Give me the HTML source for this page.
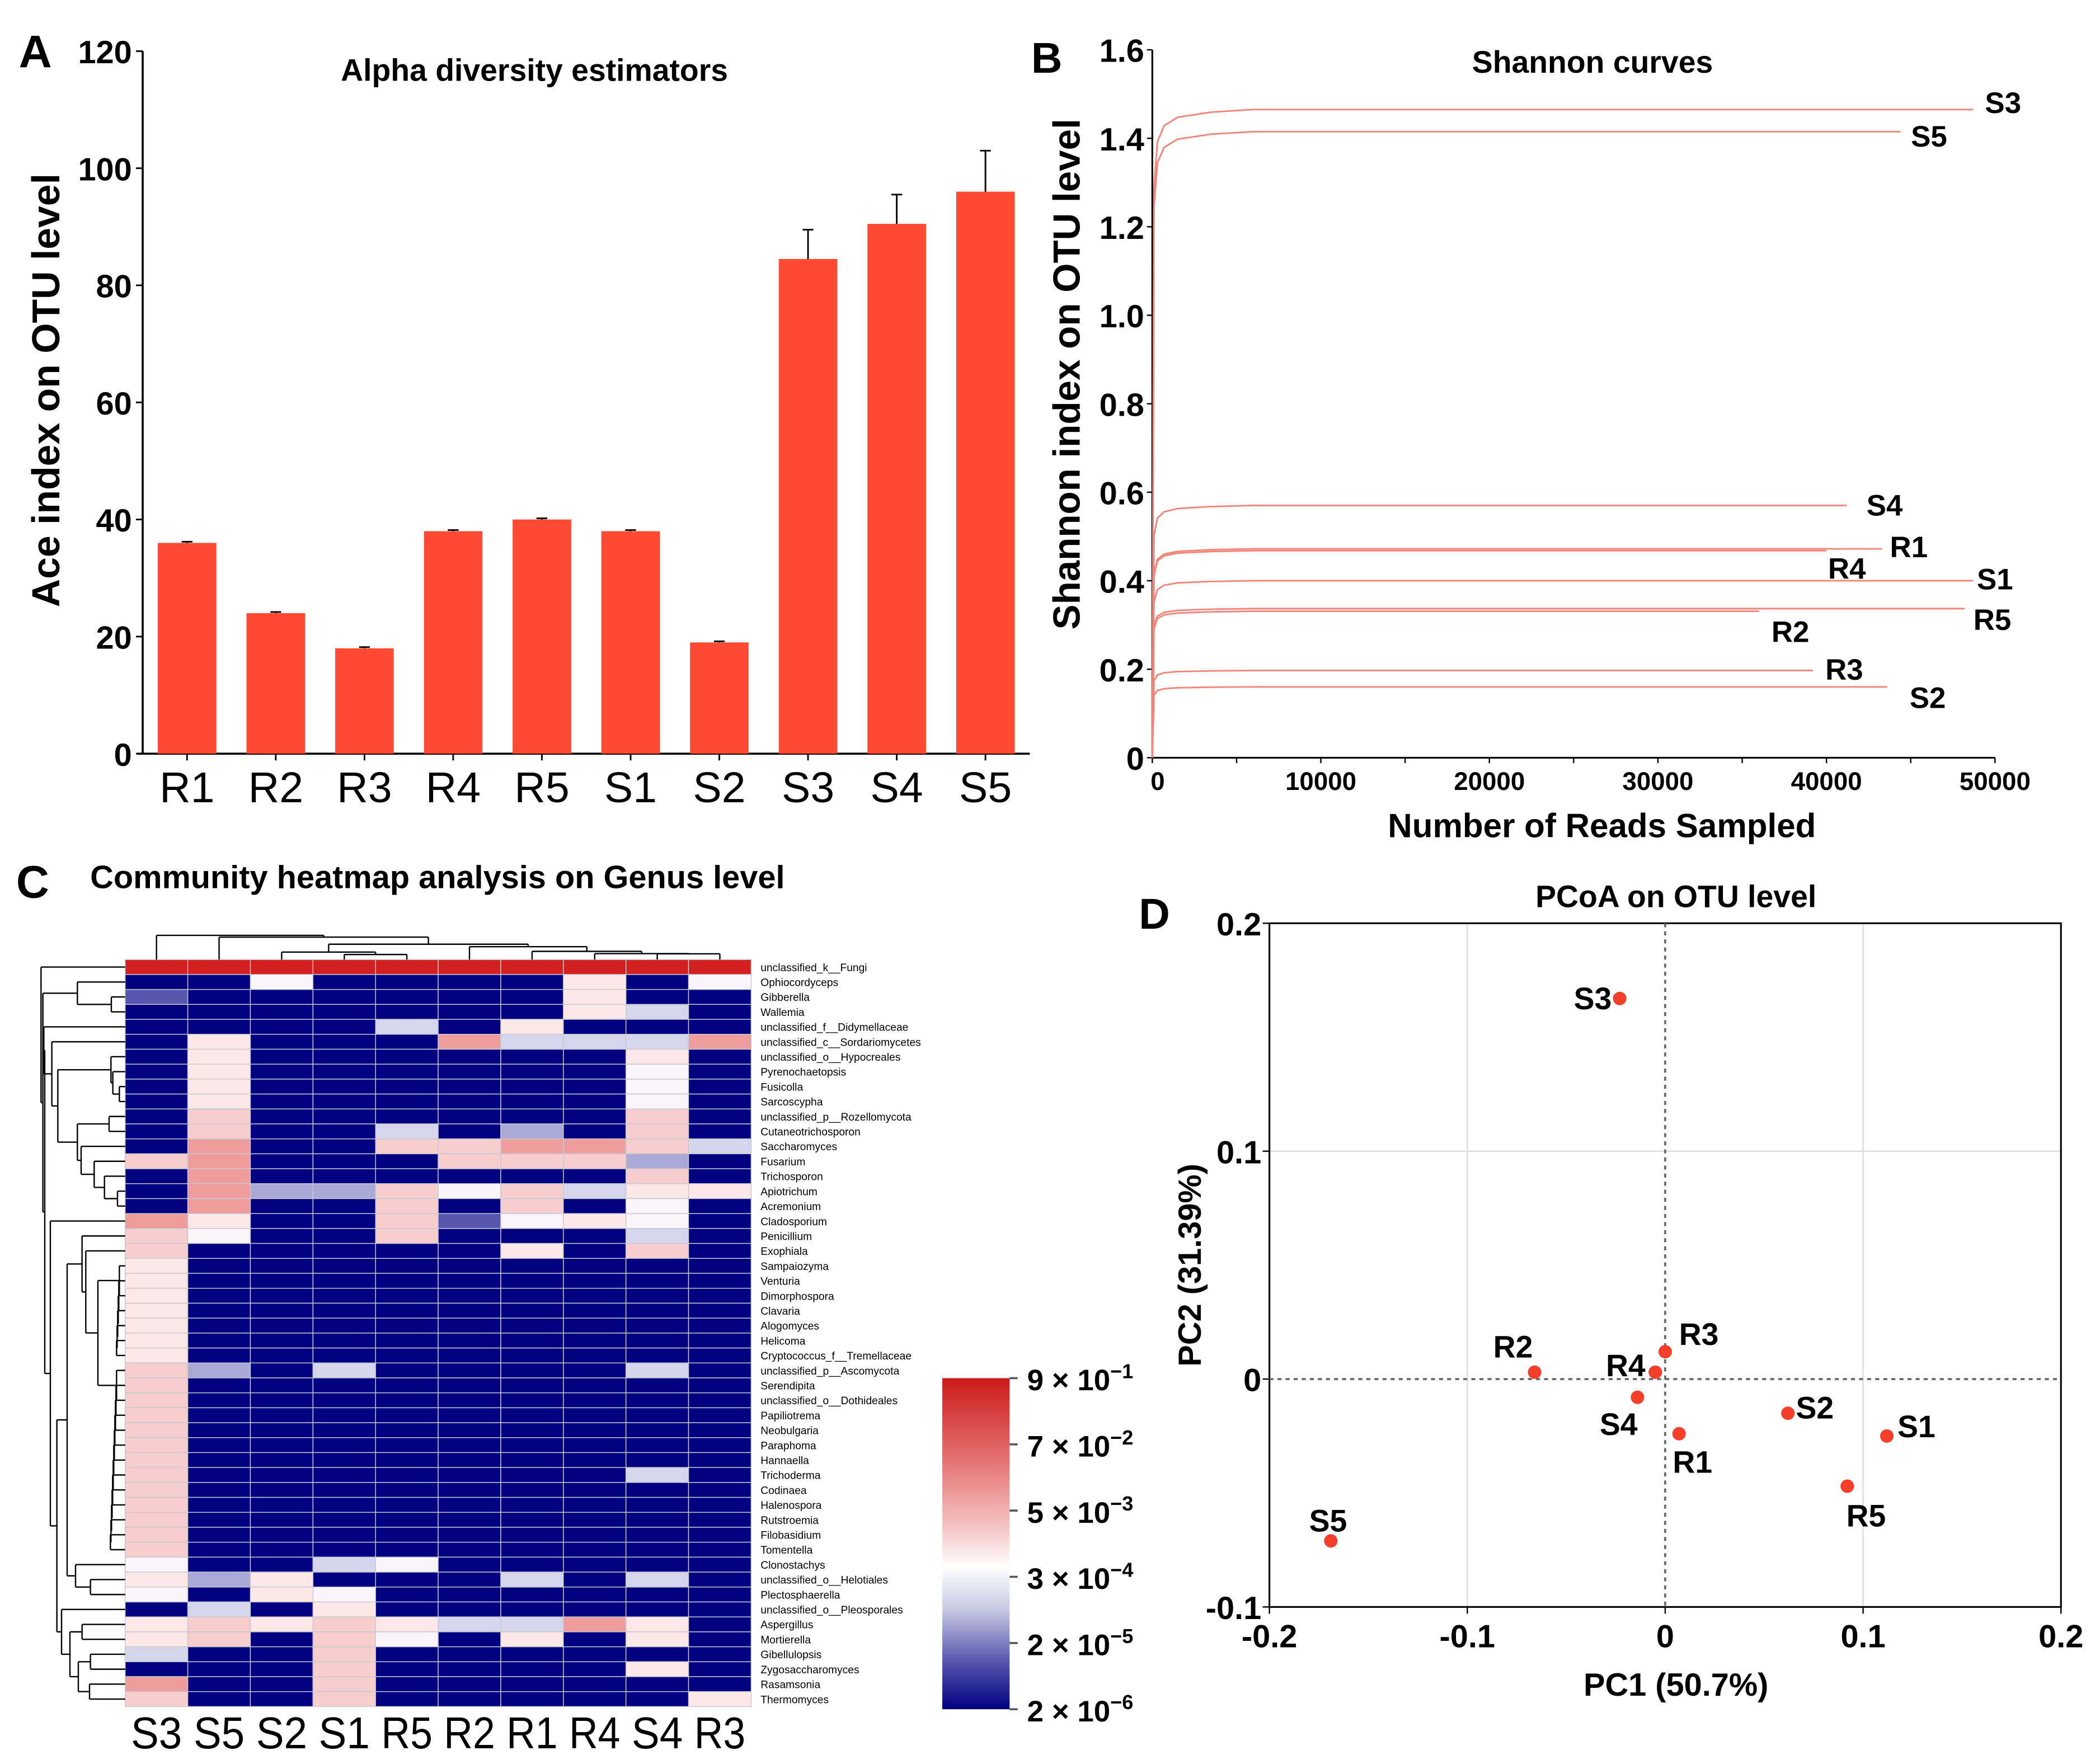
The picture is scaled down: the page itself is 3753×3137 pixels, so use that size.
<!DOCTYPE html>
<html><head><meta charset="utf-8"><style>
html,body{margin:0;padding:0;background:#fff;}
svg{display:block;}
text{font-family:"Liberation Sans",sans-serif;}
.b{font-weight:bold;}
</style></head><body>
<svg id="fig" xmlns="http://www.w3.org/2000/svg" width="3753" height="3137" viewBox="0 0 1560 1304" preserveAspectRatio="none">
<rect width="1560" height="1304" fill="#fff"/>
<g id="pA"></g>
<g id="pB"></g>
<g id="pC"></g>
<g id="pD"></g>
</svg>
<script>
const NS='http://www.w3.org/2000/svg';
function mk(parent,tag,attrs,txt){const e=document.createElementNS(NS,tag);for(const k in attrs)e.setAttribute(k,attrs[k]);if(txt!==undefined)e.textContent=txt;parent.appendChild(e);return e;}

/* ---------- Panel A data ---------- */
const aCategories=['R1','R2','R3','R4','R5','S1','S2','S3','S4','S5'];
const aValues=[36,24,18,38,40,38,19,84.5,90.5,96];
const aErrors=[0.2,0.2,0.2,0.2,0.2,0.2,0.2,5,5,7];
const aTicks=[0,20,40,60,80,100,120];

/* ---------- Panel B data ---------- */
const bSeries=['S3','S5','S4','R1','R4','S1','R5','R2','R3','S2'];
const bFinal=[1.465,1.415,0.57,0.472,0.468,0.40,0.337,0.331,0.197,0.16];
const bEndReads=[48700,44400,41200,43300,40000,48700,48200,36000,39200,43600];
const bShapeReads=[0,100,300,700,1500,3500,6000];
const bShapeFrac=[0,0.88,0.95,0.975,0.988,0.996,1];
const bYTicks=[0,0.2,0.4,0.6,0.8,1.0,1.2,1.4,1.6];
const bYTickLabels=['0','0.2','0.4','0.6','0.8','1.0','1.2','1.4','1.6'];
const bXTicks=[0,10000,20000,30000,40000,50000];

/* ---------- Panel C data ---------- */
const cColumns=['S3','S5','S2','S1','R5','R2','R1','R4','S4','R3'];
const cGenera=['unclassified_k__Fungi','Ophiocordyceps','Gibberella','Wallemia','unclassified_f__Didymellaceae','unclassified_c__Sordariomycetes','unclassified_o__Hypocreales','Pyrenochaetopsis','Fusicolla','Sarcoscypha','unclassified_p__Rozellomycota','Cutaneotrichosporon','Saccharomyces','Fusarium','Trichosporon','Apiotrichum','Acremonium','Cladosporium','Penicillium','Exophiala','Sampaiozyma','Venturia','Dimorphospora','Clavaria','Alogomyces','Helicoma','Cryptococcus_f__Tremellaceae','unclassified_p__Ascomycota','Serendipita','unclassified_o__Dothideales','Papiliotrema','Neobulgaria','Paraphoma','Hannaella','Trichoderma','Codinaea','Halenospora','Rutstroemia','Filobasidium','Tomentella','Clonostachys','unclassified_o__Helotiales','Plectosphaerella','unclassified_o__Pleosporales','Aspergillus','Mortierella','Gibellulopsis','Zygosaccharomyces','Rasamsonia','Thermomyces'];
const cLevels=[
'8888888888','0040000504','1000000500','0000000530','0000305000','0500073337','0500000050','0500000040','0500000040','0500000040',
'0600000060','0600302060','0700667763','6700066620','0700000060','0722646355','0700606040','7500614540','6400600030','6000005060',
'5000000000','5000000000','5000000000','5000000000','5000000000','5000000000','5000000000','6203000030','6000000000','6000000000',
'6000000000','6000000000','6000000000','6000000000','6000000030','6000000000','6000000000','6000000000','6000000000','6000000000',
'4003400000','5250003030','4054000000','0305000000','5656533750','5606405050','3006000000','0006000050','7006000000','6006000005'];
const cLevelColors=['#000080','#5656ad','#a9a9d6','#d5d5eb','#f8f6f9','#fde8e8','#f7cdcd','#ef9c9c','#d21f1f'];
const cBarTicks=['9 × 10','7 × 10','5 × 10','3 × 10','2 × 10','2 × 10'];
const cBarExp=['−1','−2','−3','−4','−5','−6'];

/* ---------- Panel D data ---------- */
const dLabels=['S3','R2','R4','R3','S4','R1','S2','S1','R5','S5'];
const dPC1=[-0.023,-0.066,-0.005,0.000,-0.014,0.007,0.062,0.112,0.092,-0.169];
const dPC2=[0.167,0.003,0.003,0.012,-0.008,-0.024,-0.015,-0.025,-0.047,-0.071];
const dXTicks=[-0.2,-0.1,0,0.1,0.2];
const dXTickLabels=['-0.2','-0.1','0','0.1','0.2'];
const dYTicks=[-0.1,0,0.1,0.2];
const dYTickLabels=['-0.1','0','0.1','0.2'];

/* ================= Panel A ================= */
(function(){
const g=document.getElementById('pA');
const x0=106,x1=765,y0=560,y1=38;
const ys=v=>y0-(v/120)*(y0-y1);
const band=(x1-x0)/aCategories.length;
const xs=i=>x0+band*(i+0.5);
let t=mk(g,'text',{x:14,y:50,'font-size':34,class:'b'},'A');

t=mk(g,'text',{x:397,y:60,'font-size':23,class:'b','text-anchor':'middle'},'Alpha diversity estimators');

t=mk(g,'text',{x:0,y:0,'font-size':29,class:'b','text-anchor':'middle',transform:'translate(44,290) rotate(-90)'},'Ace index on OTU level');

mk(g,'line',{x1:x0,y1:y1,x2:x0,y2:y0,stroke:'#000','stroke-width':1.5});
mk(g,'line',{x1:x0-4,y1:y0,x2:x1,y2:y0,stroke:'#000','stroke-width':1.5});
aTicks.forEach(v=>{
 mk(g,'line',{x1:x0-5,y1:ys(v),x2:x0,y2:ys(v),stroke:'#000','stroke-width':1.2});
 const l=mk(g,'text',{x:x0-8,y:ys(v)+9,'font-size':24,class:'b','text-anchor':'end'},String(v));
 
});
aCategories.forEach((c,i)=>{
 const bw=band*0.66;
 const r=mk(g,'rect',{x:xs(i)-bw/2,y:ys(aValues[i]),width:bw,height:y0-ys(aValues[i]),fill:'#ff4a33'});
 
 const e=aErrors[i];
 mk(g,'line',{x1:xs(i),y1:ys(aValues[i]),x2:xs(i),y2:ys(aValues[i]+e),stroke:'#000','stroke-width':1.2});
 mk(g,'line',{x1:xs(i)-4,y1:ys(aValues[i]+e),x2:xs(i)+4,y2:ys(aValues[i]+e),stroke:'#000','stroke-width':1.2});
 mk(g,'line',{x1:xs(i),y1:y0,x2:xs(i),y2:y0+5,stroke:'#000','stroke-width':1.2});
 const l=mk(g,'text',{x:xs(i),y:596,'font-size':32,'text-anchor':'middle'},c);
 
});
})();

/* ================= Panel B ================= */
(function(){
const g=document.getElementById('pB');
const x0=856,x1=1482,y0=563,y1=37;
const ys=v=>y0-(v/1.6)*(y0-y1);
const xs=r=>x0+(r/50000)*(x1-x0);
let t=mk(g,'text',{x:766,y:54,'font-size':32,class:'b'},'B');

t=mk(g,'text',{x:1183,y:54,'font-size':23,class:'b','text-anchor':'middle'},'Shannon curves');

t=mk(g,'text',{x:0,y:0,'font-size':28,class:'b','text-anchor':'middle',transform:'translate(802,278) rotate(-90)'},'Shannon index on OTU level');

t=mk(g,'text',{x:1190,y:622,'font-size':25,class:'b','text-anchor':'middle'},'Number of Reads Sampled');

mk(g,'line',{x1:x0,y1:y1,x2:x0,y2:y0,stroke:'#000','stroke-width':1.3});
mk(g,'line',{x1:x0,y1:y0,x2:x1,y2:y0,stroke:'#000','stroke-width':1.3});
bYTicks.forEach((v,i)=>{
 mk(g,'line',{x1:x0-4,y1:ys(v),x2:x0,y2:ys(v),stroke:'#000','stroke-width':1});
 const l=mk(g,'text',{x:x0-6,y:ys(v)+9,'font-size':24,class:'b','text-anchor':'end'},bYTickLabels[i]);
 
});
for(let r=0;r<=50000;r+=5000) mk(g,'line',{x1:xs(r),y1:y0,x2:xs(r),y2:y0+4,stroke:'#000','stroke-width':1});
bXTicks.forEach(v=>{
 const l=mk(g,'text',{x:xs(v)+(v===0?4:0),y:y0+24,'font-size':19,class:'b','text-anchor':'middle'},String(v));
 
});
const labelPos={S3:[1488,84],S5:[1433,109],S4:[1400,383],R1:[1418,414],R4:[1372,430],S1:[1482,438],R5:[1480,468],R2:[1330,477],R3:[1370,505],S2:[1432,526]};
bSeries.forEach((s,i)=>{
 let pts=bShapeReads.map((r,k)=>xs(r)+','+ys(bFinal[i]*bShapeFrac[k]));
 pts.push(xs(bEndReads[i])+','+ys(bFinal[i]));
 const p=mk(g,'polyline',{points:pts.join(' '),fill:'none',stroke:'#f5857a','stroke-width':1.2});
 
 const lp=labelPos[s];
 const l=mk(g,'text',{x:lp[0],y:lp[1],'font-size':22,class:'b','text-anchor':'middle'},s);
 
});
})();

/* ================= Panel C ================= */
(function(){
const g=document.getElementById('pC');
const hx0=93,hx1=558,hy0=713,hy1=1268;
const cw=(hx1-hx0)/cColumns.length, rh=(hy1-hy0)/cGenera.length;
let t=mk(g,'text',{x:12,y:667,'font-size':34,class:'b'},'C');

t=mk(g,'text',{x:67,y:660,'font-size':24,class:'b'},'Community heatmap analysis on Genus level');

cGenera.forEach((name,r)=>{
 for(let c=0;c<cColumns.length;c++){
  const lv=+cLevels[r][c];
  const cell=mk(g,'rect',{x:hx0+c*cw,y:hy0+r*rh,width:cw,height:rh,fill:cLevelColors[lv],stroke:'#c8c8d0','stroke-width':0.6});
  
 }
 const l=mk(g,'text',{x:565,y:hy0+r*rh+rh/2+3,'font-size':8},name);
 
});
cColumns.forEach((c,i)=>{
 const l=mk(g,'text',{x:hx0+cw*(i+0.5),y:1299,'font-size':33,'text-anchor':'middle',textLength:38,lengthAdjust:'spacingAndGlyphs'},c);
 
});
function chain(a,b,base){let n=b;for(let i=b-1;i>=a;i--){n=[base-(i-a)*3,i,n];}return n;}
const leftTree=[220,0,[230,[415,1,[597,2,3]],[240,[235,4,[278,5,[310,[595,6,[605,7,[640,8,9]]],[415,[585,10,11],[435,12,[505,13,[560,14,[630,15,16]]]]]]]],[270,17,[305,[360,[440,18,[460,19,[525,chain(20,26,640),chain(27,39,625)]]],[405,40,[485,41,42]]],[330,43,[375,[440,44,45],[420,[485,46,47],[480,48,49]]]]]]]]];
const dg=mk(g,'g',{stroke:'#000','stroke-width':1,fill:'none'});
function drawL(n){
 if(typeof n==='number') return {x:hx0,y:hy0+(n+0.5)*rh};
 const x=n[0]/7.218, a=drawL(n[1]), b=drawL(n[2]);
 mk(dg,'line',{x1:x,y1:a.y,x2:x,y2:b.y});
 mk(dg,'line',{x1:x,y1:a.y,x2:a.x,y2:a.y});
 mk(dg,'line',{x1:x,y1:b.y,x2:b.x,y2:b.y});
 return {x:x,y:(a.y+b.y)/2};
}
drawL(leftTree);
const topTree=[323,0,[300,1,[205,[100,2,[68,3,4]],[172,5,[110,6,[80,7,[77,8,9]]]]]]];
function drawT(n){
 if(typeof n==='number') return {x:hx0+(n+0.5)*cw,y:hy0};
 const y=hy0-n[0]*18/323, a=drawT(n[1]), b=drawT(n[2]);
 mk(dg,'line',{x1:a.x,y1:y,x2:b.x,y2:y});
 mk(dg,'line',{x1:a.x,y1:y,x2:a.x,y2:a.y});
 mk(dg,'line',{x1:b.x,y1:y,x2:b.x,y2:b.y});
 return {x:(a.x+b.x)/2,y:y};
}
drawT(topTree);

const defs=mk(g,'defs',{});
const lg=mk(defs,'linearGradient',{id:'cbar',x1:0,y1:0,x2:0,y2:1});
[['0','#cc1a1a'],['0.25','#e57373'],['0.45','#f5c4c4'],['0.57','#ffffff'],['0.7','#c8c8e4'],['0.85','#5a5ab0'],['1','#000080']].forEach(s=>mk(lg,'stop',{offset:s[0],'stop-color':s[1]}));
const by0=1024,by1=1270;
const cb=mk(g,'rect',{x:700,y:by0,width:50,height:by1-by0,fill:'url(#cbar)'});

cBarTicks.forEach((s,i)=>{
 const y=by0+i*(by1-by0)/5;
 mk(g,'line',{x1:750,y1:y,x2:756,y2:y,stroke:'#555','stroke-width':1.5});
 const l=mk(g,'text',{x:763,y:y+9,'font-size':22,class:'b'},s);
 mk(l,'tspan',{dy:-9,'font-size':15},cBarExp[i]);
 
});
})();

/* ================= Panel D ================= */
(function(){
const g=document.getElementById('pD');
const x0=943,x1=1531,y0=1194,y1=686;
const xs=v=>x0+(v+0.2)/0.4*(x1-x0);
const ys=v=>y0-(v+0.1)/0.3*(y0-y1);
let t=mk(g,'text',{x:846,y:690,'font-size':32,class:'b'},'D');

t=mk(g,'text',{x:1245,y:674,'font-size':23,class:'b','text-anchor':'middle'},'PCoA on OTU level');

t=mk(g,'text',{x:0,y:0,'font-size':24,class:'b','text-anchor':'middle',transform:'translate(892,940) rotate(-90)'},'PC2 (31.39%)');

t=mk(g,'text',{x:1245,y:1260,'font-size':24,class:'b','text-anchor':'middle'},'PC1 (50.7%)');

dXTicks.forEach((v,i)=>{
 if(v!==0&&i>0&&i<dXTicks.length-1) mk(g,'line',{x1:xs(v),y1:y1,x2:xs(v),y2:y0,stroke:'#dcdcdc','stroke-width':1});
 mk(g,'line',{x1:xs(v),y1:y0,x2:xs(v),y2:y0+5,stroke:'#000','stroke-width':1});
 const l=mk(g,'text',{x:xs(v),y:y0+30,'font-size':24,class:'b','text-anchor':'middle'},dXTickLabels[i]);
 
});
dYTicks.forEach((v,i)=>{
 if(v===0.1) mk(g,'line',{x1:x0,y1:ys(v),x2:x1,y2:ys(v),stroke:'#dcdcdc','stroke-width':1});
 mk(g,'line',{x1:x0-5,y1:ys(v),x2:x0,y2:ys(v),stroke:'#000','stroke-width':1});
 const l=mk(g,'text',{x:x0-6,y:ys(v)+9,'font-size':24,class:'b','text-anchor':'end'},dYTickLabels[i]);
 
});
mk(g,'rect',{x:x0,y:y1,width:x1-x0,height:y0-y1,fill:'none',stroke:'#000','stroke-width':1.3});
mk(g,'line',{x1:xs(0),y1:y1,x2:xs(0),y2:y0,stroke:'#666','stroke-width':1.5,'stroke-dasharray':'3,3'});
mk(g,'line',{x1:x0,y1:ys(0),x2:x1,y2:ys(0),stroke:'#666','stroke-width':1.5,'stroke-dasharray':'3,3'});
const off={S3:[-20,8,'middle'],R2:[-16,-11,'middle'],R4:[-22,3,'middle'],R3:[25,-5,'middle'],S4:[-14,28,'middle'],R1:[10,29,'middle'],S2:[20,4,'middle'],S1:[22,1,'middle'],R5:[14,30,'middle'],S5:[-2,-7,'middle']};
dLabels.forEach((s,i)=>{
 const cx=xs(dPC1[i]),cy=ys(dPC2[i]);
 const c=mk(g,'circle',{cx:cx,cy:cy,r:5,fill:'#f43f2a'});
 
 const o=off[s];
 const l=mk(g,'text',{x:cx+o[0],y:cy+o[1],'font-size':23,class:'b','text-anchor':o[2]},s);
 
});
})();
</script>
</body></html>
